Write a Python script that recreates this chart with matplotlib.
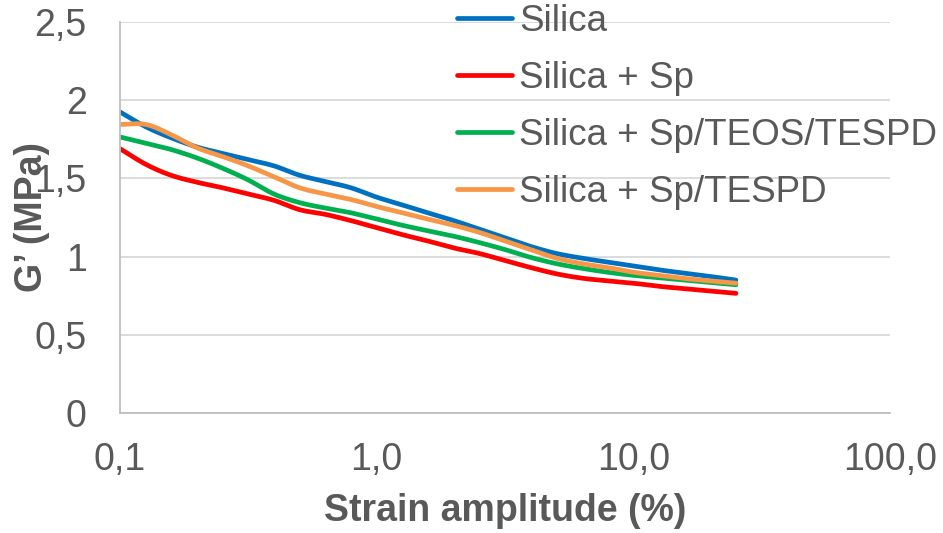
import numpy as np
import matplotlib
matplotlib.use("Agg")
import matplotlib.pyplot as plt

# ---- data ----
strain = [0.1, 0.126, 0.158, 0.2, 0.251, 0.316, 0.398, 0.501, 0.631, 0.794,
          1.0, 1.26, 1.58, 2.0, 2.51, 3.16, 3.98, 5.01, 6.31, 7.94,
          10.0, 12.6, 15.8, 20.0, 25.1]
silica = [1.925, 1.83, 1.76, 1.70, 1.66, 1.62, 1.58, 1.52, 1.48, 1.44,
          1.38, 1.33, 1.28, 1.23, 1.175, 1.12, 1.065, 1.02, 0.99, 0.965,
          0.94, 0.915, 0.895, 0.873, 0.85]
silica_sp = [1.69, 1.59, 1.52, 1.475, 1.44, 1.40, 1.36, 1.30, 1.27, 1.23,
             1.185, 1.14, 1.10, 1.055, 1.02, 0.975, 0.93, 0.89, 0.862, 0.845,
             0.83, 0.81, 0.795, 0.78, 0.765]
silica_sp_teos_tespd = [1.765, 1.725, 1.685, 1.63, 1.565, 1.49, 1.40, 1.345, 1.31, 1.28,
                        1.24, 1.20, 1.165, 1.13, 1.09, 1.045, 0.995, 0.955, 0.925, 0.90,
                        0.88, 0.865, 0.85, 0.835, 0.82]
silica_sp_tespd = [1.845, 1.845, 1.78, 1.695, 1.64, 1.58, 1.51, 1.44, 1.40, 1.365,
                   1.32, 1.28, 1.24, 1.20, 1.155, 1.10, 1.045, 0.99, 0.955, 0.93,
                   0.90, 0.88, 0.86, 0.845, 0.83]

series_names = ["Silica", "Silica + Sp", "Silica + Sp/TEOS/TESPD", "Silica + Sp/TESPD"]
series_values = [silica, silica_sp, silica_sp_teos_tespd, silica_sp_tespd]
colors = ["#0070C0", "#FF0000", "#00B050", "#F79646"]

xticks = [0.1, 1, 10, 100]
xticklabels = ["0,1", "1,0", "10,0", "100,0"]
yticks = [0, 0.5, 1, 1.5, 2, 2.5]
yticklabels = ["0", "0,5", "1", "1,5", "2", "2,5"]


def smooth(x, y, n=12):
    """Catmull-Rom smoothing in log-x space (like Excel's smoothed lines)."""
    lx = np.log10(np.asarray(x, float))
    y = np.asarray(y, float)
    P = np.column_stack([lx, y])
    P = np.vstack([2 * P[0] - P[1], P, 2 * P[-1] - P[-2]])
    out = []
    for i in range(1, len(P) - 2):
        p0, p1, p2, p3 = P[i - 1], P[i], P[i + 1], P[i + 2]
        t = np.linspace(0, 1, n, endpoint=False)[:, None]
        seg = 0.5 * ((2 * p1) + (-p0 + p2) * t + (2 * p0 - 5 * p1 + 4 * p2 - p3) * t ** 2
                     + (-p0 + 3 * p1 - 3 * p2 + p3) * t ** 3)
        out.append(seg)
    out.append(P[-2][None, :])
    out = np.vstack(out)
    return 10 ** out[:, 0], out[:, 1]


plt.rcParams["font.family"] = ["Liberation Sans", "DejaVu Sans"]
txt = "#595959"
fs = 27

fig = plt.figure(figsize=(9.43, 5.33), dpi=100)
ax = fig.add_axes([120 / 943, 1 - 413 / 533, (890 - 120) / 943, (413 - 22) / 533])

for name, vals, c in zip(series_names, series_values, colors):
    xs, ys = smooth(strain, vals)
    ax.plot(xs, ys, color=c, lw=3.4, label=name, solid_capstyle="round")

ax.set_xscale("log")
ax.set_xlim(0.1, 100)
ax.set_ylim(0, 2.5)
ax.set_xticks(xticks)
ax.set_xticklabels(xticklabels)
ax.minorticks_off()
ax.set_yticks(yticks)
ax.set_yticklabels(yticklabels)
ax.tick_params(axis="both", length=0, labelsize=fs, colors=txt)
ax.tick_params(axis="y", pad=24)
ax.tick_params(axis="x", pad=21)
ax.grid(axis="y", color="#D9D9D9", lw=1.3)
ax.set_axisbelow(True)
for s in ["top", "right"]:
    ax.spines[s].set_visible(False)
for s in ["left", "bottom"]:
    ax.spines[s].set_color("#BFBFBF")
    ax.spines[s].set_linewidth(1.3)

ax.set_xlabel("Strain amplitude (%)", fontsize=fs, fontweight="bold", color=txt, labelpad=11)
ax.set_ylabel("G’ (MPa)", fontsize=fs, fontweight="bold", color=txt)
ax.yaxis.set_label_coords((50 - 120) / 770, 0.5)

leg = fig.legend(loc="upper left", bbox_to_anchor=(457 / 943, 1 - 4 / 533), frameon=False,
                 fontsize=26.5, handlelength=1.5, handletextpad=0.18, labelspacing=0.6,
                 borderpad=0, borderaxespad=0)
for t in leg.get_texts():
    t.set_color(txt)
for h in leg.get_lines():
    h.set_linewidth(3.4)
    h.set_solid_capstyle("round")

fig.savefig("out.png", dpi=100)
